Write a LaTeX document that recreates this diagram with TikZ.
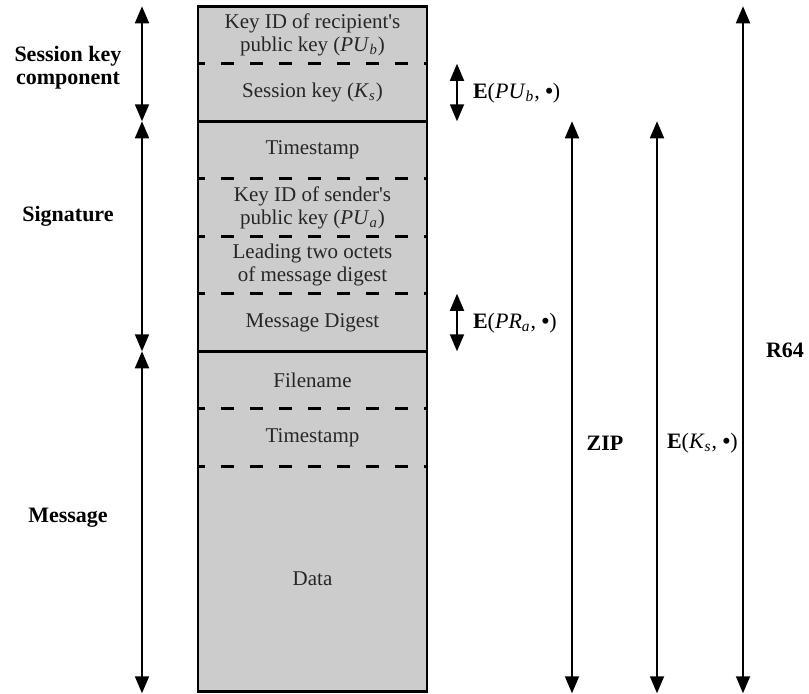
\documentclass[tikz,border=0pt]{standalone}
\usepackage{fontspec}
\setmainfont{Liberation Serif}
\usetikzlibrary{positioning, arrows.meta}

\newcommand{\subit}[2]{\textit{#1}\textsubscript{\textit{#2}}}
\newcommand{\encr}[1]{\textbf{E}(#1, \textbf{\textbullet})}

\begin{document}
\begin{tikzpicture}[x=0.5pt, y=-0.5pt, node distance=0pt,
    field/.style={fill=black!20, minimum width=114.5pt, minimum height=28.75pt,
      inner sep=0pt, outer sep=0pt, align=center, text=black!85,
      font=\fontsize{10.5}{11.5}\selectfont},
    sidelabel/.style={align=center, font=\fontsize{11}{11.5}\selectfont\bfseries},
    keylabel/.style={anchor=west, font=\fontsize{11}{11.5}\selectfont},
    span/.style={{Triangle[width=7pt,length=8.5pt]}-{Triangle[width=7pt,length=8.5pt]}, line width=0.9pt},
    divider/.style={line width=1.3pt, dash pattern=on 6.5pt off 8pt, dash phase=3pt},
    border/.style={line width=1.4pt}]
  \useasboundingbox (0,0) rectangle (809,693);

  % packet fields
  \node[field] (recipid) at (312.5,35) {Key ID of recipient\textquotesingle s\\public key (\subit{PU}{b})};
  \node[field, below=of recipid] (sesskey) {Session key (\subit{K}{s})};
  \node[field, below=of sesskey] (ts1) {Timestamp};
  \node[field, below=of ts1] (senderid) {Key ID of sender\textquotesingle s\\public key (\subit{PU}{a})};
  \node[field, below=of senderid] (octets) {Leading two octets\\of message digest};
  \node[field, below=of octets] (digest) {Message Digest};
  \node[field, below=of digest] (fname) {Filename};
  \node[field, below=of fname] (ts2) {Timestamp};
  \node[field, below=of ts2, minimum height=112.5pt] (data) {Data};

  % separators
  \foreach \f in {recipid, ts1, senderid, octets, fname, ts2}
    \draw[divider] (\f.south west) -- (\f.south east);
  \draw[border] (sesskey.south west) -- (sesskey.south east);
  \draw[border] (digest.south west) -- (digest.south east);
  \draw[border] (recipid.north west) rectangle (data.south east);

  % left spans
  \coordinate (lx) at (142,0);
  \draw[span] (lx |- recipid.north) -- (lx |- sesskey.south);
  \draw[span] (lx |- sesskey.south) -- (lx |- digest.south);
  \draw[span] (lx |- digest.south) -- ([yshift=-1pt]lx |- data.south);
  \node[sidelabel] (skc) at (68,68) {Session key\\component};
  \node[sidelabel] (sig) at (68,216) {Signature};
  \node[sidelabel] (msg) at (68,518) {Message};

  % encryption of single fields
  \coordinate (ex) at (457,0);
  \draw[span] (ex |- recipid.south) -- (ex |- sesskey.south);
  \draw[span] (ex |- octets.south) -- (ex |- digest.south);
  \node[keylabel] (epub) at (466,93) {\encr{\subit{PU}{b}}};
  \node[keylabel] (epra) at (466,323) {\encr{\subit{PR}{a}}};

  % whole-message spans
  \coordinate (zx) at (572,0);
  \coordinate (kx) at (657,0);
  \coordinate (rx) at (743,0);
  \draw[span] (zx |- sesskey.south) -- ([yshift=-1pt]zx |- data.south);
  \draw[span] (kx |- sesskey.south) -- ([yshift=-1pt]kx |- data.south);
  \draw[span] (rx |- recipid.north) -- ([yshift=-1pt]rx |- data.south);
  \node[sidelabel] (zip) at (605,443) {ZIP};
  \node[keylabel] (eks) at (660,443) {\encr{\subit{K}{s}}};
  \node[sidelabel] (rsf) at (785,350) {R64};
\end{tikzpicture}
\end{document}
